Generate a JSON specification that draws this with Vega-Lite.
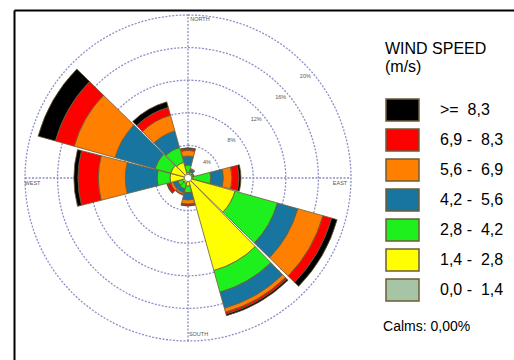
{
  "$schema": "https://vega.github.io/schema/vega-lite/v6.json",
  "width": 500,
  "height": 350,
  "autosize": {"type": "none"},
  "padding": {"left": 14, "top": 10, "right": 0, "bottom": 0},
  "background": "#ffffff",
  "config": {
    "view": {"stroke": null},
    "text": {"font": "Liberation Sans"}
  },
  "datasets": {
    "rose": [
      {"direction": 0, "speed": "0,0 - 1,4", "pct": 0.2},
      {"direction": 0, "speed": "1,4 - 2,8", "pct": 0.5},
      {"direction": 0, "speed": "2,8 - 4,2", "pct": 0.9},
      {"direction": 0, "speed": "4,2 - 5,6", "pct": 1.1},
      {"direction": 0, "speed": "5,6 - 6,9", "pct": 0.7},
      {"direction": 0, "speed": "6,9 - 8,3", "pct": 0.2},
      {"direction": 0, "speed": ">= 8,3", "pct": 0.1},
      {"direction": 30, "speed": "0,0 - 1,4", "pct": 0.2},
      {"direction": 30, "speed": "1,4 - 2,8", "pct": 0.3},
      {"direction": 30, "speed": "2,8 - 4,2", "pct": 0.3},
      {"direction": 30, "speed": "4,2 - 5,6", "pct": 0.3},
      {"direction": 30, "speed": "5,6 - 6,9", "pct": 0.1},
      {"direction": 60, "speed": "0,0 - 1,4", "pct": 0.2},
      {"direction": 60, "speed": "1,4 - 2,8", "pct": 0.3},
      {"direction": 60, "speed": "2,8 - 4,2", "pct": 0.2},
      {"direction": 60, "speed": "4,2 - 5,6", "pct": 0.1},
      {"direction": 90, "speed": "0,0 - 1,4", "pct": 0.2},
      {"direction": 90, "speed": "1,4 - 2,8", "pct": 0.4},
      {"direction": 90, "speed": "2,8 - 4,2", "pct": 2.2},
      {"direction": 90, "speed": "4,2 - 5,6", "pct": 1.55},
      {"direction": 90, "speed": "5,6 - 6,9", "pct": 1.05},
      {"direction": 90, "speed": "6,9 - 8,3", "pct": 0.85},
      {"direction": 90, "speed": ">= 8,3", "pct": 0.25},
      {"direction": 120, "speed": "0,0 - 1,4", "pct": 0.2},
      {"direction": 120, "speed": "1,4 - 2,8", "pct": 5.8},
      {"direction": 120, "speed": "2,8 - 4,2", "pct": 5.4},
      {"direction": 120, "speed": "4,2 - 5,6", "pct": 2.6},
      {"direction": 120, "speed": "5,6 - 6,9", "pct": 3.2},
      {"direction": 120, "speed": "6,9 - 8,3", "pct": 1.1},
      {"direction": 120, "speed": ">= 8,3", "pct": 0.7},
      {"direction": 150, "speed": "0,0 - 1,4", "pct": 0.2},
      {"direction": 150, "speed": "1,4 - 2,8", "pct": 11.6},
      {"direction": 150, "speed": "2,8 - 4,2", "pct": 2.75},
      {"direction": 150, "speed": "4,2 - 5,6", "pct": 2.05},
      {"direction": 150, "speed": "5,6 - 6,9", "pct": 0.5},
      {"direction": 150, "speed": "6,9 - 8,3", "pct": 0.25},
      {"direction": 150, "speed": ">= 8,3", "pct": 0.2},
      {"direction": 180, "speed": "0,0 - 1,4", "pct": 0.2},
      {"direction": 180, "speed": "1,4 - 2,8", "pct": 0.8},
      {"direction": 180, "speed": "2,8 - 4,2", "pct": 0.8},
      {"direction": 180, "speed": "4,2 - 5,6", "pct": 0.9},
      {"direction": 180, "speed": "5,6 - 6,9", "pct": 0.5},
      {"direction": 180, "speed": "6,9 - 8,3", "pct": 0.15},
      {"direction": 180, "speed": ">= 8,3", "pct": 0.1},
      {"direction": 210, "speed": "0,0 - 1,4", "pct": 0.2},
      {"direction": 210, "speed": "1,4 - 2,8", "pct": 0.5},
      {"direction": 210, "speed": "2,8 - 4,2", "pct": 0.7},
      {"direction": 210, "speed": "4,2 - 5,6", "pct": 0.5},
      {"direction": 210, "speed": "5,6 - 6,9", "pct": 0.2},
      {"direction": 210, "speed": "6,9 - 8,3", "pct": 0.1},
      {"direction": 240, "speed": "0,0 - 1,4", "pct": 0.2},
      {"direction": 240, "speed": "1,4 - 2,8", "pct": 0.5},
      {"direction": 240, "speed": "2,8 - 4,2", "pct": 0.6},
      {"direction": 240, "speed": "4,2 - 5,6", "pct": 0.6},
      {"direction": 240, "speed": "5,6 - 6,9", "pct": 0.3},
      {"direction": 240, "speed": "6,9 - 8,3", "pct": 0.4},
      {"direction": 240, "speed": ">= 8,3", "pct": 0.1},
      {"direction": 270, "speed": "0,0 - 1,4", "pct": 0.2},
      {"direction": 270, "speed": "1,4 - 2,8", "pct": 2.0},
      {"direction": 270, "speed": "2,8 - 4,2", "pct": 1.6},
      {"direction": 270, "speed": "4,2 - 5,6", "pct": 3.9},
      {"direction": 270, "speed": "5,6 - 6,9", "pct": 3.3},
      {"direction": 270, "speed": "6,9 - 8,3", "pct": 2.5},
      {"direction": 270, "speed": ">= 8,3", "pct": 0.5},
      {"direction": 300, "speed": "0,0 - 1,4", "pct": 0.2},
      {"direction": 300, "speed": "1,4 - 2,8", "pct": 2.0},
      {"direction": 300, "speed": "2,8 - 4,2", "pct": 2.0},
      {"direction": 300, "speed": "4,2 - 5,6", "pct": 5.1},
      {"direction": 300, "speed": "5,6 - 6,9", "pct": 5.2},
      {"direction": 300, "speed": "6,9 - 8,3", "pct": 2.4},
      {"direction": 300, "speed": ">= 8,3", "pct": 2.2},
      {"direction": 330, "speed": "0,0 - 1,4", "pct": 0.2},
      {"direction": 330, "speed": "1,4 - 2,8", "pct": 1.8},
      {"direction": 330, "speed": "2,8 - 4,2", "pct": 1.9},
      {"direction": 330, "speed": "4,2 - 5,6", "pct": 2.1},
      {"direction": 330, "speed": "5,6 - 6,9", "pct": 2.0},
      {"direction": 330, "speed": "6,9 - 8,3", "pct": 1.0},
      {"direction": 330, "speed": ">= 8,3", "pct": 0.7}
    ],
    "rings": [
      {"pct": 4, "label": "4%"},
      {"pct": 8, "label": "8%"},
      {"pct": 12, "label": "12%"},
      {"pct": 16, "label": "16%"},
      {"pct": 20, "label": "20%"}
    ]
  },
  "encoding": {
    "x": {
      "datum": 0, "type": "quantitative",
      "scale": {"domain": [-21.35, 40], "nice": false, "zero": false},
      "axis": {"orient": "top", "domainColor": "#000000", "domainWidth": 2, "ticks": false, "labels": false, "grid": false, "title": null}
    },
    "y": {
      "datum": 0, "type": "quantitative",
      "scale": {"domain": [-22.33, 20.61], "nice": false, "zero": false},
      "axis": {"orient": "left", "domainColor": "#000000", "domainWidth": 2, "ticks": false, "labels": false, "grid": false, "title": null}
    }
  },
  "layer": [
    {
      "data": {"name": "rings"},
      "mark": {"type": "arc", "theta": 0, "theta2": 6.2832, "filled": false, "stroke": "#8d8fc6", "strokeWidth": 1.3, "strokeDash": [2, 1.5]},
      "encoding": {
        "radius": {"field": "pct", "type": "quantitative", "stack": null, "scale": {"type": "linear", "domain": [0, 20], "range": [0, 163], "zero": true, "nice": false}}
      }
    },
    {
      "data": {"values": [{"line": "west-east"}]},
      "mark": {"type": "rule", "stroke": "#8d8fc6", "strokeWidth": 1.3, "strokeDash": [2, 1.5]},
      "encoding": {
        "x": {"datum": -20, "type": "quantitative"},
        "x2": {"datum": 20},
        "y": {"datum": 0, "type": "quantitative"}
      }
    },
    {
      "data": {"values": [{"line": "south-north"}]},
      "mark": {"type": "rule", "stroke": "#8d8fc6", "strokeWidth": 1.3, "strokeDash": [2, 1.5]},
      "encoding": {
        "y": {"datum": -20, "type": "quantitative"},
        "y2": {"datum": 20},
        "x": {"datum": 0, "type": "quantitative"}
      }
    },
    {
      "data": {"name": "rose"},
      "mark": {"type": "arc", "stroke": "#6e5b35", "strokeWidth": 0.8},
      "encoding": {
        "theta": {
          "field": "direction", "type": "ordinal",
          "scale": {"domain": [0, 30, 60, 90, 120, 150, 180, 210, 240, 270, 300, 330], "range": [-0.2618, 6.0214], "paddingInner": 0.04, "paddingOuter": 0.02}
        },
        "radius": {
          "field": "pct", "type": "quantitative", "stack": "zero",
          "scale": {"type": "linear", "domain": [0, 20], "range": [0, 163], "zero": true, "nice": false}
        },
        "order": {"field": "speed", "sort": "ascending"},
        "color": {
          "field": "speed", "type": "nominal",
          "scale": {
            "domain": [">= 8,3", "6,9 - 8,3", "5,6 - 6,9", "4,2 - 5,6", "2,8 - 4,2", "1,4 - 2,8", "0,0 - 1,4"],
            "range": ["#000000", "#ff0000", "#ff8000", "#17759f", "#1ef01e", "#ffff00", "#a6c4a6"]
          },
          "legend": {
            "orient": "none",
            "legendX": 371,
            "legendY": 31,
            "padding": 0,
            "title": ["WIND SPEED", "(m/s)"],
            "titleFont": "Liberation Sans",
            "titleFontSize": 16,
            "titleFontWeight": "normal",
            "titleColor": "#000000",
            "titleLineHeight": 18,
            "titlePadding": 23,
            "labelFont": "Liberation Sans",
            "labelFontSize": 16,
            "labelColor": "#000000",
            "labelOffset": 31,
            "labelExpr": "datum.label == '>= 8,3' ? '>=\u00a0 8,3' : '\u00a0' + replace(datum.label, '- ', '-\u00a0 ')",
            "symbolType": "M-1,-1H2V1H-1Z",
            "symbolSize": 484,
            "rowPadding": 2,
            "encode": {
              "symbols": {"update": {"stroke": {"value": "#000000"}, "strokeWidth": {"value": 1.5}, "opacity": {"value": 1}}},
              "labels": {"update": {"dy": {"value": 2}}}
            }
          }
        }
      }
    },
    {
      "data": {"values": [{"calms": 0}]},
      "mark": {"type": "arc", "theta": 0, "theta2": 6.2832, "fill": "#ffffff", "stroke": "#666666", "strokeWidth": 0.8},
      "encoding": {
        "radius": {"datum": 0.45, "type": "quantitative", "stack": null, "scale": {"type": "linear", "domain": [0, 20], "range": [0, 163], "zero": true, "nice": false}}
      }
    },
    {
      "data": {"name": "rings"},
      "mark": {"type": "text", "theta": 0.855, "radiusOffset": -7.5, "fontSize": 5.5, "color": "#555555", "align": "center", "baseline": "middle"},
      "encoding": {
        "radius": {"field": "pct", "type": "quantitative", "stack": null, "scale": {"type": "linear", "domain": [0, 20], "range": [0, 163], "zero": true, "nice": false}},
        "text": {"field": "label"}
      }
    },
    {
      "data": {"values": [{"label": "NORTH"}]},
      "mark": {"type": "text", "fontSize": 5.5, "color": "#555555", "align": "center", "baseline": "middle"},
      "encoding": {"x": {"datum": 1.47, "type": "quantitative"}, "y": {"datum": 19.45, "type": "quantitative"}, "text": {"field": "label"}}
    },
    {
      "data": {"values": [{"label": "SOUTH"}]},
      "mark": {"type": "text", "fontSize": 5.5, "color": "#555555", "align": "center", "baseline": "middle"},
      "encoding": {"x": {"datum": 1.29, "type": "quantitative"}, "y": {"datum": -19.08, "type": "quantitative"}, "text": {"field": "label"}}
    },
    {
      "data": {"values": [{"label": "WEST"}]},
      "mark": {"type": "text", "fontSize": 5.5, "color": "#555555", "align": "center", "baseline": "middle"},
      "encoding": {"x": {"datum": -19.08, "type": "quantitative"}, "y": {"datum": -0.61, "type": "quantitative"}, "text": {"field": "label"}}
    },
    {
      "data": {"values": [{"label": "EAST"}]},
      "mark": {"type": "text", "fontSize": 5.5, "color": "#555555", "align": "center", "baseline": "middle"},
      "encoding": {"x": {"datum": 18.65, "type": "quantitative"}, "y": {"datum": -0.61, "type": "quantitative"}, "text": {"field": "label"}}
    },
    {
      "data": {"values": [{"label": "Calms: 0,00%"}]},
      "mark": {"type": "text", "fontSize": 14, "color": "#000000", "align": "left", "baseline": "alphabetic"},
      "encoding": {"x": {"datum": 23.93, "type": "quantitative"}, "y": {"datum": -18.77, "type": "quantitative"}, "text": {"field": "label"}}
    }
  ]
}
